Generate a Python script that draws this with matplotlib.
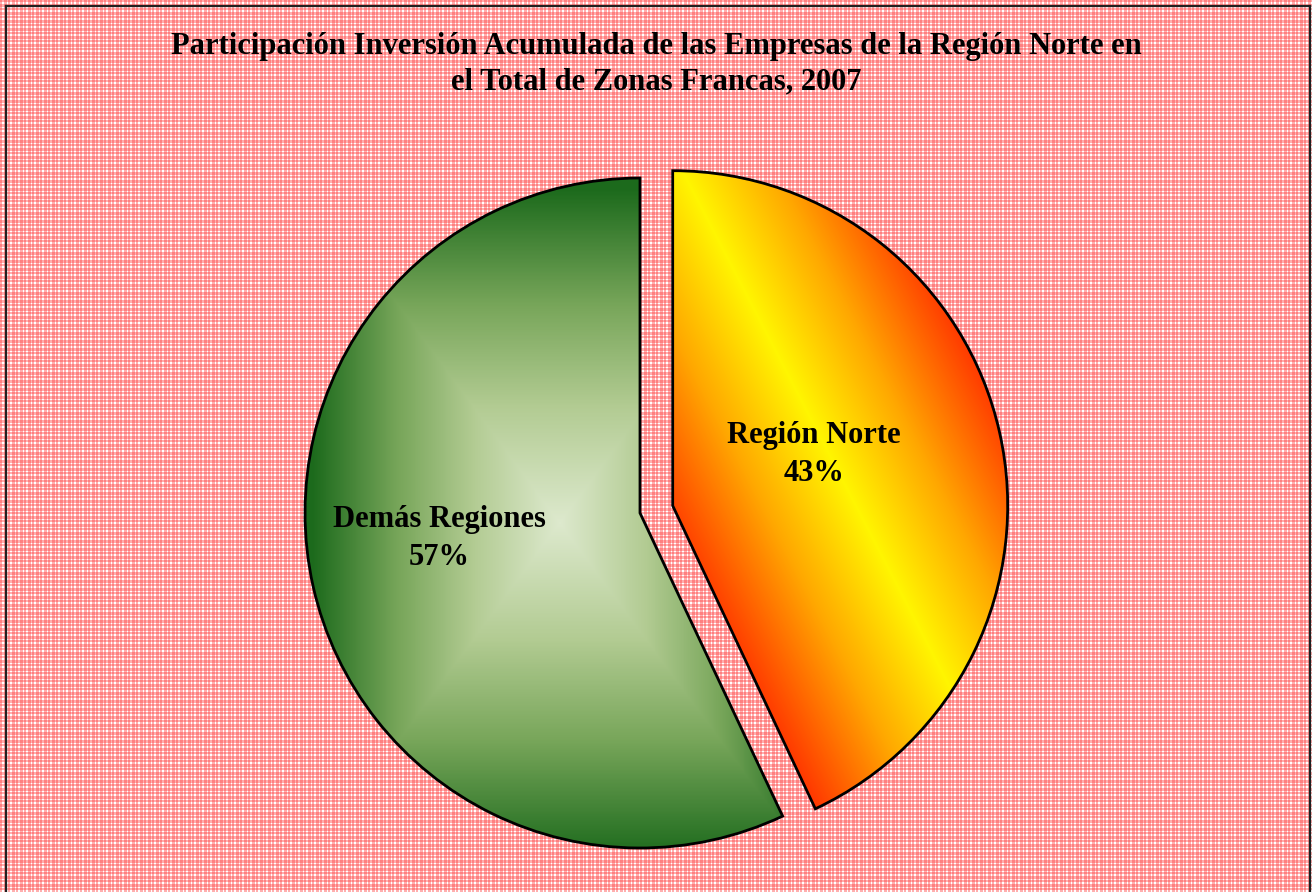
import numpy as np
import matplotlib.pyplot as plt
from matplotlib.colors import LinearSegmentedColormap
from matplotlib.lines import Line2D

# data
categories = ["Región Norte", "Demás Regiones"]
shares = [43, 57]
explode = [0.1, 0.0]
# label anchor points (in pie radius units, relative to the pie centre)
label_pos = [(0.52, 0.175), (-0.60, -0.075)]

title = ("Participación Inversión Acumulada de las Empresas de la Región Norte en\n"
         "el Total de Zonas Francas, 2007")

W, H = 1312, 892
fig = plt.figure(figsize=(W / 100, H / 100), dpi=100)

# pink plaid background
a = np.array([1, 1, 0, 0, 1, 1, 1, 0])
cols = a[np.arange(W) % 8]
rows = a[np.arange(H) % 8]
level = rows[:, None] + cols[None, :]
palette = np.array([[255, 255, 255], [255, 175, 175], [255, 128, 128]]) / 255
fig.figimage(palette[level], 0, 0, zorder=-1)

# frame of the chart area (top, left, right)
fx0, fx1, fy1 = 6 / W, 1310 / W, 1 - 6 / H
for xs, ys in [([fx0, fx1], [fy1, fy1]), ([fx0, fx0], [0, fy1]), ([fx1, fx1], [0, fy1])]:
    fig.add_artist(Line2D(xs, ys, transform=fig.transFigure, color="#202020", lw=1.6))

# axes in units of the pie radius (radius = 335 px, centre at 640, 513 from top)
R = 335.0
ax = fig.add_axes([0, 0, 1, 1], zorder=1)
xmin, xmax = -640 / R, (W - 640) / R
ymin, ymax = -(H - 513) / R, 513 / R
ax.patch.set_visible(False)
ax.axis("off")

wedges, _ = ax.pie(shares, explode=explode, startangle=90, counterclock=False,
                   radius=1.0, center=(0, 0), normalize=True,
                   wedgeprops=dict(facecolor="none", edgecolor="black", linewidth=2.0, zorder=3))

# gradient fills clipped to each wedge
X, Y = np.meshgrid(np.linspace(xmin, xmax, W), np.linspace(ymin, ymax, H))

# Región Norte: diagonal red - yellow - red
n = np.array([0.888, 0.460])
p0 = np.array([0.149, 0.979])
s = np.abs((X - p0[0]) * n[0] + (Y - p0[1]) * n[1]) / 0.54
norte_cmap = LinearSegmentedColormap.from_list(
    "norte", [(0, "#fff500"), (0.45, "#ffa800"), (1, "#ff3000")])
img1 = norte_cmap(np.clip(s, 0, 1))

# Demás Regiones: rectangular gradient from the centre
cx, cy = -0.24, -0.03
t = np.maximum(np.abs(X - cx) / 0.74, np.abs(Y - cy) / 1.0)
green_cmap = LinearSegmentedColormap.from_list(
    "green", [(0, "#dde9cd"), (0.35, "#b2cb92"), (0.65, "#78a65a"), (1, "#1c6a1c")])
img2 = green_cmap(np.clip(t, 0, 1))

for w, img in zip(wedges, [img1, img2]):
    im = ax.imshow(img, extent=[xmin, xmax, ymin, ymax], origin="lower",
                   aspect="auto", zorder=2, interpolation="bilinear")
    im.set_clip_path(w)

ax.set_xlim(xmin, xmax)
ax.set_ylim(ymin, ymax)

for (lx, ly), name, v in zip(label_pos, categories, shares):
    ax.text(lx, ly, f"{name}\n{v}%", ha="center", va="center", fontsize=22,
            fontweight="bold", family="Liberation Serif", linespacing=1.4, zorder=4)

fig.text(0.5, 1 - 64 / H, title, ha="center", va="center", fontsize=22,
         fontweight="bold", family="Liberation Serif", linespacing=1.3)

fig.savefig("out.png", dpi=100)
